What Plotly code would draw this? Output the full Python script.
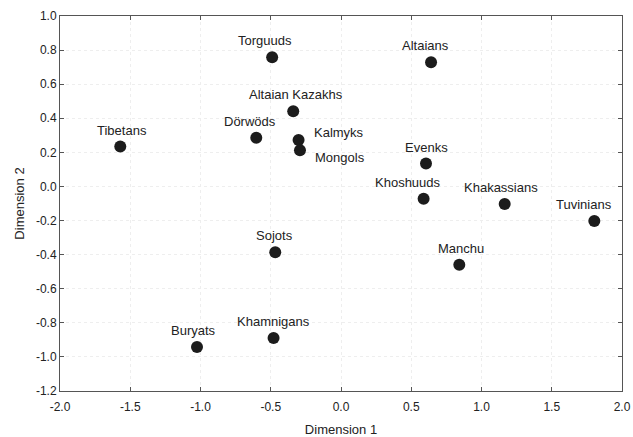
import plotly.graph_objects as go

names = ["Torguuds", "Altaians", "Altaian Kazakhs", "Tibetans", "Dörwöds", "Kalmyks",
         "Mongols", "Evenks", "Khoshuuds", "Khakassians", "Tuvinians", "Sojots",
         "Manchu", "Buryats", "Khamnigans"]
dim1 = [-0.49, 0.641, -0.34, -1.571, -0.603, -0.302, -0.292, 0.605, 0.588, 1.165, 1.803,
        -0.468, 0.842, -1.025, -0.48]
dim2 = [0.758, 0.729, 0.441, 0.234, 0.286, 0.273, 0.212, 0.134, -0.072, -0.103, -0.202,
        -0.386, -0.459, -0.942, -0.889]

x_ticks = [-2.0, -1.5, -1.0, -0.5, 0.0, 0.5, 1.0, 1.5, 2.0]
y_ticks = [1.0, 0.8, 0.6, 0.4, 0.2, 0.0, -0.2, -0.4, -0.6, -0.8, -1.0, -1.2]

# label placement styles (pixel offsets)
label_style = {
    "Torguuds": (-7, 7, "center", "bottom"),
    "Altaians": (-6, 7, "center", "bottom"),
    "Altaian Kazakhs": (3, 7, "center", "bottom"),
    "Tibetans": (2, 7, "center", "bottom"),
    "Dörwöds": (-6, 7, "center", "bottom"),
    "Kalmyks": (13, 7, "left", "middle"),
    "Mongols": (13, -7, "left", "middle"),
    "Evenks": (0, 7, "center", "bottom"),
    "Khoshuuds": (-16, 7, "center", "bottom"),
    "Khakassians": (-4, 7, "center", "bottom"),
    "Tuvinians": (-10, 7, "center", "bottom"),
    "Sojots": (-1, 7, "center", "bottom"),
    "Manchu": (2, 7, "center", "bottom"),
    "Buryats": (-3, 7, "center", "bottom"),
    "Khamnigans": (0, 7, "center", "bottom"),
}

fig = go.Figure()
fig.add_trace(go.Scatter(
    x=dim1, y=dim2, mode="markers",
    marker=dict(size=12, color="#1c1c1c"),
    hoverinfo="text", text=names, showlegend=False,
))

for n, xv, yv in zip(names, dim1, dim2):
    xs, ys, xa, ya = label_style[n]
    fig.add_annotation(x=xv, y=yv, text=n, showarrow=False, xshift=xs, yshift=ys,
                       xanchor=xa, yanchor=ya,
                       font=dict(size=13, color="#222222", family="Liberation Sans, Arial"))

axis_common = dict(
    showline=True, linecolor="#555555", linewidth=1, mirror="ticks",
    ticks="inside", ticklen=4, tickcolor="#555555",
    showgrid=True, gridcolor="#eeeeee", griddash="dot", gridwidth=1,
    zeroline=False, automargin=False,
    tickfont=dict(size=12, color="#222222", family="Liberation Sans, Arial"),
)

fig.update_xaxes(range=[-2.0, 2.0], tickvals=x_ticks, ticktext=[f"{v:.1f}" for v in x_ticks],
                 ticklabelstandoff=5, ticklabeloverflow="allow",
                 title=dict(text="Dimension 1", font=dict(size=13, color="#222222"), standoff=14),
                 **axis_common)
fig.update_yaxes(range=[-1.2, 1.0], tickvals=y_ticks, ticktext=[f"{v:.1f}" for v in y_ticks],
                 title=dict(text="Dimension 2", font=dict(size=13, color="#222222"), standoff=8),
                 **axis_common)

fig.update_layout(
    width=633, height=437,
    margin=dict(l=60, r=11, t=16, b=46),
    plot_bgcolor="white", paper_bgcolor="white",
    font=dict(family="Liberation Sans, Arial", size=13, color="#222222"),
)

# remove the default page margin so the figure fills the window exactly
fig.write_html("out.html", config={"displayModeBar": False},
               post_script="document.body.style.margin='0';document.body.style.overflow='hidden';")
